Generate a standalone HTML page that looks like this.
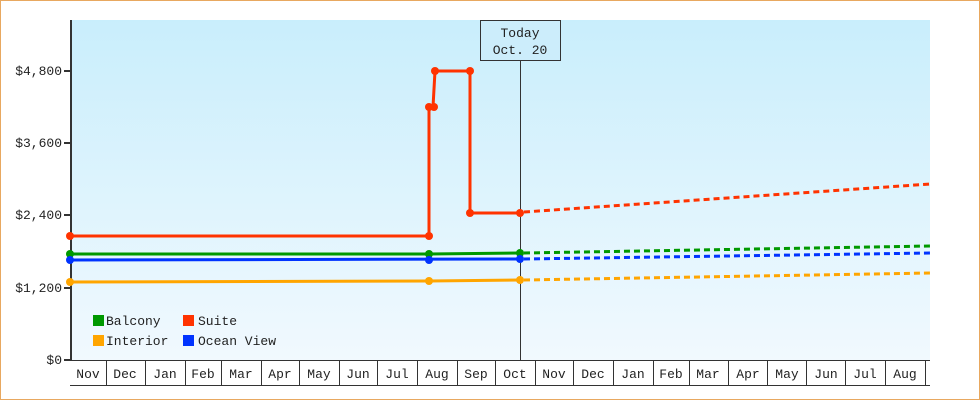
<!DOCTYPE html>
<html><head><style>
body{margin:0;background:#fff}
svg{display:block}
text{font-family:"Liberation Mono","DejaVu Sans Mono",monospace;font-size:13px;fill:#222}
</style></head><body>
<svg width="980" height="400" viewBox="0 0 980 400">
<defs><linearGradient id="bg" x1="0" y1="0" x2="0" y2="1"><stop offset="0" stop-color="#c9eefc"/><stop offset="1" stop-color="#f1f9fe"/></linearGradient></defs>
<rect x="0.5" y="0.5" width="979" height="399" fill="#fff" stroke="#e8a860"/>
<rect x="71" y="20" width="859" height="340" fill="url(#bg)"/>
<!-- y axis -->
<line x1="71" y1="20" x2="71" y2="361" stroke="#333" stroke-width="2"/>
<g stroke="#333" stroke-width="2">
<line x1="64" y1="71" x2="71" y2="71"/><line x1="64" y1="143" x2="71" y2="143"/><line x1="64" y1="215" x2="71" y2="215"/><line x1="64" y1="288" x2="71" y2="288"/><line x1="64" y1="360" x2="71" y2="360"/></g>
<g text-anchor="end">
<text x="62" y="75">$4,800</text><text x="62" y="147">$3,600</text><text x="62" y="219">$2,400</text><text x="62" y="292">$1,200</text><text x="62" y="364">$0</text></g>
<!-- x axis months -->
<g fill="#fff" stroke="#333" stroke-width="1" id="mb"></g>
<line x1="70" y1="360.5" x2="930" y2="360.5" stroke="#333"/>
<line x1="70" y1="385.5" x2="930" y2="385.5" stroke="#333"/>
<g stroke="#333">
<line x1="106.5" y1="360" x2="106.5" y2="385"/><line x1="145.5" y1="360" x2="145.5" y2="385"/><line x1="185.5" y1="360" x2="185.5" y2="385"/><line x1="221.5" y1="360" x2="221.5" y2="385"/><line x1="261.5" y1="360" x2="261.5" y2="385"/><line x1="299.5" y1="360" x2="299.5" y2="385"/><line x1="339.5" y1="360" x2="339.5" y2="385"/><line x1="377.5" y1="360" x2="377.5" y2="385"/><line x1="417.5" y1="360" x2="417.5" y2="385"/><line x1="457.5" y1="360" x2="457.5" y2="385"/><line x1="495.5" y1="360" x2="495.5" y2="385"/><line x1="535.5" y1="360" x2="535.5" y2="385"/><line x1="573.5" y1="360" x2="573.5" y2="385"/><line x1="613.5" y1="360" x2="613.5" y2="385"/><line x1="653.5" y1="360" x2="653.5" y2="385"/><line x1="689.5" y1="360" x2="689.5" y2="385"/><line x1="728.5" y1="360" x2="728.5" y2="385"/><line x1="767.5" y1="360" x2="767.5" y2="385"/><line x1="806.5" y1="360" x2="806.5" y2="385"/><line x1="845.5" y1="360" x2="845.5" y2="385"/><line x1="885.5" y1="360" x2="885.5" y2="385"/><line x1="925.5" y1="360" x2="925.5" y2="385"/></g>
<g text-anchor="middle">
<text x="88" y="378">Nov</text><text x="125" y="378">Dec</text><text x="165" y="378">Jan</text><text x="203" y="378">Feb</text><text x="241" y="378">Mar</text><text x="280" y="378">Apr</text><text x="319" y="378">May</text><text x="358" y="378">Jun</text><text x="397" y="378">Jul</text><text x="437" y="378">Aug</text><text x="476" y="378">Sep</text><text x="515" y="378">Oct</text><text x="554" y="378">Nov</text><text x="593" y="378">Dec</text><text x="633" y="378">Jan</text><text x="671" y="378">Feb</text><text x="708" y="378">Mar</text><text x="748" y="378">Apr</text><text x="787" y="378">May</text><text x="826" y="378">Jun</text><text x="865" y="378">Jul</text><text x="905" y="378">Aug</text></g>
<!-- today -->
<line x1="520.5" y1="60" x2="520.5" y2="360" stroke="#333"/>
<rect x="480.5" y="20.5" width="80" height="40" fill="#ccedfb" stroke="#333"/>
<text x="520" y="37" text-anchor="middle">Today</text>
<text x="520" y="54" text-anchor="middle">Oct. 20</text>
<!-- series -->
<g fill="none" stroke-width="3">
<polyline stroke="#ff3300" points="70,236 429,236 429,107 433,107 435,71 470,71 470,213 520,213"/>
<polyline stroke="#009900" points="70,254 429,254 520,253"/>
<polyline stroke="#0033ff" points="70,260 520,259"/>
<polyline stroke="#ffa500" points="70,282 429,281 520,280"/>
<g stroke-dasharray="6,4">
<line x1="524" y1="212" x2="930" y2="184" stroke="#ff3300"/>
<line x1="524" y1="253" x2="930" y2="246" stroke="#009900"/>
<line x1="524" y1="259" x2="930" y2="253" stroke="#0033ff"/>
<line x1="524" y1="280" x2="930" y2="273" stroke="#ffa500"/>
</g></g>
<g>
<g fill="#ff3300"><circle cx="70" cy="236" r="4"/><circle cx="429" cy="236" r="4"/><circle cx="429" cy="107" r="4"/><circle cx="434" cy="107" r="4"/><circle cx="435" cy="71" r="4"/><circle cx="470" cy="71" r="4"/><circle cx="470" cy="213" r="4"/><circle cx="520" cy="213" r="4"/></g>
<g fill="#009900"><circle cx="70" cy="254" r="4"/><circle cx="429" cy="254" r="4"/><circle cx="520" cy="253" r="4"/></g>
<g fill="#0033ff"><circle cx="70" cy="260" r="4"/><circle cx="429" cy="260" r="4"/><circle cx="520" cy="259" r="4"/></g>
<g fill="#ffa500"><circle cx="70" cy="282" r="4"/><circle cx="429" cy="281" r="4"/><circle cx="520" cy="280" r="4"/></g>
</g>
<!-- legend -->
<rect x="93" y="315" width="11" height="11" fill="#009900"/><text x="106" y="325">Balcony</text>
<rect x="183" y="315" width="11" height="11" fill="#ff3300"/><text x="198" y="325">Suite</text>
<rect x="93" y="335" width="11" height="11" fill="#ffa500"/><text x="106" y="345">Interior</text>
<rect x="183" y="335" width="11" height="11" fill="#0033ff"/><text x="198" y="345">Ocean View</text>
</svg>
</body></html>
